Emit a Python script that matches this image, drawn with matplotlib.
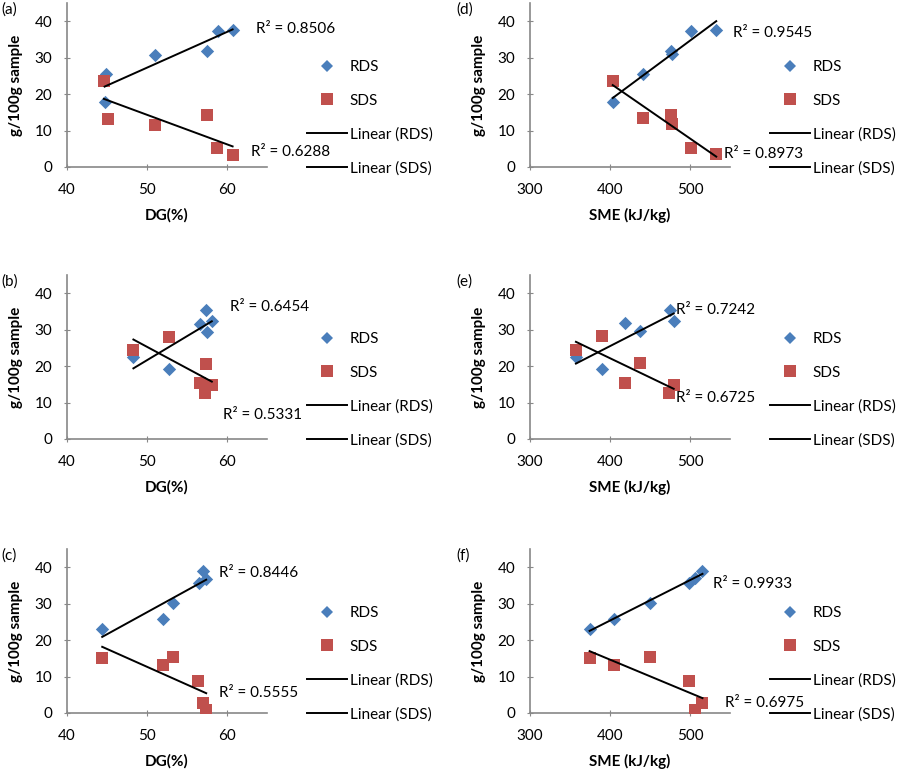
import matplotlib

matplotlib.use("Agg")
import matplotlib.pyplot as plt
import numpy as np
from matplotlib.lines import Line2D

plt.rcParams["font.family"] = ["Lato", "DejaVu Sans"]

BLUE = "#4a7ebb"
RED = "#c0504d"

# panel (a): DG vs RDS/SDS
dg_a = [44.7, 44.9, 51.0, 57.5, 58.9, 60.7]
rds_a = [17.8, 25.4, 30.8, 31.9, 37.3, 37.7]
dg_a_sds = [44.6, 45.1, 51.0, 57.5, 58.8, 60.7]
sds_a = [23.7, 13.3, 11.6, 14.4, 5.2, 3.4]

# panel (b)
dg_b = [48.3, 52.8, 56.6, 57.4, 57.5, 58.1]
rds_b = [22.4, 19.1, 31.6, 35.3, 29.4, 32.4]
dg_b_sds = [48.3, 52.8, 56.6, 57.4, 57.3, 58.1]
sds_b = [24.4, 28.0, 15.5, 20.7, 12.5, 14.7]

# panel (c)
dg_c = [44.4, 52.0, 53.3, 56.5, 57.0, 57.4]
rds_c = [23.0, 25.7, 30.3, 35.7, 39.1, 36.9]
dg_c_sds = [44.4, 52.0, 53.3, 56.4, 57.0, 57.4]
sds_c = [15.1, 13.3, 15.5, 8.7, 2.7, 0.7]

# panel (d): SME
sme_d = [403.4, 441.7, 476.6, 477.4, 500.9, 532.8]
rds_d = [17.8, 25.4, 31.8, 30.9, 37.3, 37.6]
sme_d_sds = [403.4, 441.7, 476.6, 477.4, 500.9, 532.8]
sds_d = [23.7, 13.5, 14.4, 11.9, 5.3, 3.5]

# panel (e)
sme_e = [357.4, 389.4, 419.1, 437.4, 475.3, 479.6]
rds_e = [22.4, 19.2, 31.8, 29.5, 35.5, 32.3]
sme_e_sds = [357.4, 389.4, 419.1, 437.4, 473.6, 479.6]
sds_e = [24.5, 28.2, 15.5, 20.9, 12.7, 14.7]

# panel (f)
sme_f = [374.5, 404.5, 449.5, 498.9, 506.2, 515.6]
rds_f = [23.0, 25.7, 30.3, 35.7, 37.1, 39.1]
sme_f_sds = [374.5, 404.5, 449.5, 498.5, 506.2, 515.6]
sds_f = [15.1, 13.3, 15.5, 8.7, 0.7, 2.7]

r2_labels = {
    "a": ("R\u00b2 = 0.8506", "R\u00b2 = 0.6288"),
    "b": ("R\u00b2 = 0.6454", "R\u00b2 = 0.5331"),
    "c": ("R\u00b2 = 0.8446", "R\u00b2 = 0.5555"),
    "d": ("R\u00b2 = 0.9545", "R\u00b2 = 0.8973"),
    "e": ("R\u00b2 = 0.7242", "R\u00b2 = 0.6725"),
    "f": ("R\u00b2 = 0.9933", "R\u00b2 = 0.6975"),
}
# where Excel put the R² labels (data coords)
r2_pos = {
    "a": ((63.6, 38.0), (63.0, 4.1)),
    "b": ((60.4, 36.2), (59.5, 6.5)),
    "c": ((59.0, 38.5), (59.0, 5.5)),
    "d": ((554.0, 36.8), (542.5, 3.5)),
    "e": ((483.0, 35.3), (483.0, 11.2)),
    "f": ((528.8, 35.5), (543.8, 2.7)),
}

panels = [
    ("a", dg_a, rds_a, dg_a_sds, sds_a, 0),
    ("b", dg_b, rds_b, dg_b_sds, sds_b, 1),
    ("c", dg_c, rds_c, dg_c_sds, sds_c, 2),
    ("d", sme_d, rds_d, sme_d_sds, sds_d, 3),
    ("e", sme_e, rds_e, sme_e_sds, sds_e, 4),
    ("f", sme_f, rds_f, sme_f_sds, sds_f, 5),
]

W, H = 900, 780
fig = plt.figure(figsize=(9, 7.8), dpi=100)
tops = [3, 275, 549]
lefts = [67, 530]
FS = 11

for key, x_r, y_r, x_s, y_s, idx in panels:
    col, row = divmod(idx, 3)
    left, top = lefts[col], tops[row]
    ax = fig.add_axes([left / W, 1 - (top + 164) / H, 200 / W, 164 / H])
    ax.scatter(x_r, y_r, marker="D", s=46, color=BLUE, linewidths=0, zorder=3)
    ax.scatter(x_s, y_s, marker="s", s=64, color=RED, linewidths=0, zorder=3)
    for xs, ys in ((x_r, y_r), (x_s, y_s)):
        xs = np.asarray(xs)
        k, b = np.polyfit(xs, ys, 1)
        xe = np.array([xs.min(), xs.max()])
        ax.plot(xe, k * xe + b, color="black", lw=1.4, zorder=4)
    for txt, (tx, ty) in zip(r2_labels[key], r2_pos[key]):
        ax.text(tx, ty, txt, fontsize=FS, ha="left", va="center", clip_on=False)

    if col == 0:
        ax.set_xlim(40, 65)
        ax.set_xticks([40, 50, 60])
        ax.set_xlabel("DG(%)", fontsize=FS, fontweight="bold")
    else:
        ax.set_xlim(300, 550)
        ax.set_xticks([300, 400, 500])
        ax.set_xlabel("SME (kJ/kg)", fontsize=FS, fontweight="bold")
    ax.set_ylim(0, 45)
    ax.set_yticks([0, 10, 20, 30, 40])
    ax.set_ylabel("g/100g sample", fontsize=FS, fontweight="bold")
    ax.yaxis.set_label_coords(-0.22, 0.5)
    ax.xaxis.set_label_coords(0.5, -0.25)
    for s in ("top", "right"):
        ax.spines[s].set_visible(False)
    for s in ("left", "bottom"):
        ax.spines[s].set_color("#888888")
        ax.spines[s].set_linewidth(1.2)
    ax.tick_params(direction="inout", length=5, color="#888888", labelsize=FS)
    ax.tick_params(axis="x", pad=9)
    ax.tick_params(axis="y", pad=8)

    handles = [
        Line2D([], [], ls="none", marker="D", ms=6.5, color=BLUE, mew=0),
        Line2D([], [], ls="none", marker="s", ms=8, color=RED, mew=0),
        Line2D([], [], color="black", lw=1.4),
        Line2D([], [], color="black", lw=1.4),
    ]
    ax.legend(handles, ["RDS", "SDS", "Linear (RDS)", "Linear (SDS)"],
              loc="center left", bbox_to_anchor=(1.2, 0.3), frameon=False,
              fontsize=FS, handlelength=2.6, handletextpad=0.2,
              labelspacing=1.28, borderpad=0, borderaxespad=0)
    ax.text(-0.33 if col == 0 else -0.37, 0.96, f"({key})", transform=ax.transAxes,
            fontsize=FS, ha="left", va="center")

fig.savefig("out.png", dpi=100, facecolor="white")
